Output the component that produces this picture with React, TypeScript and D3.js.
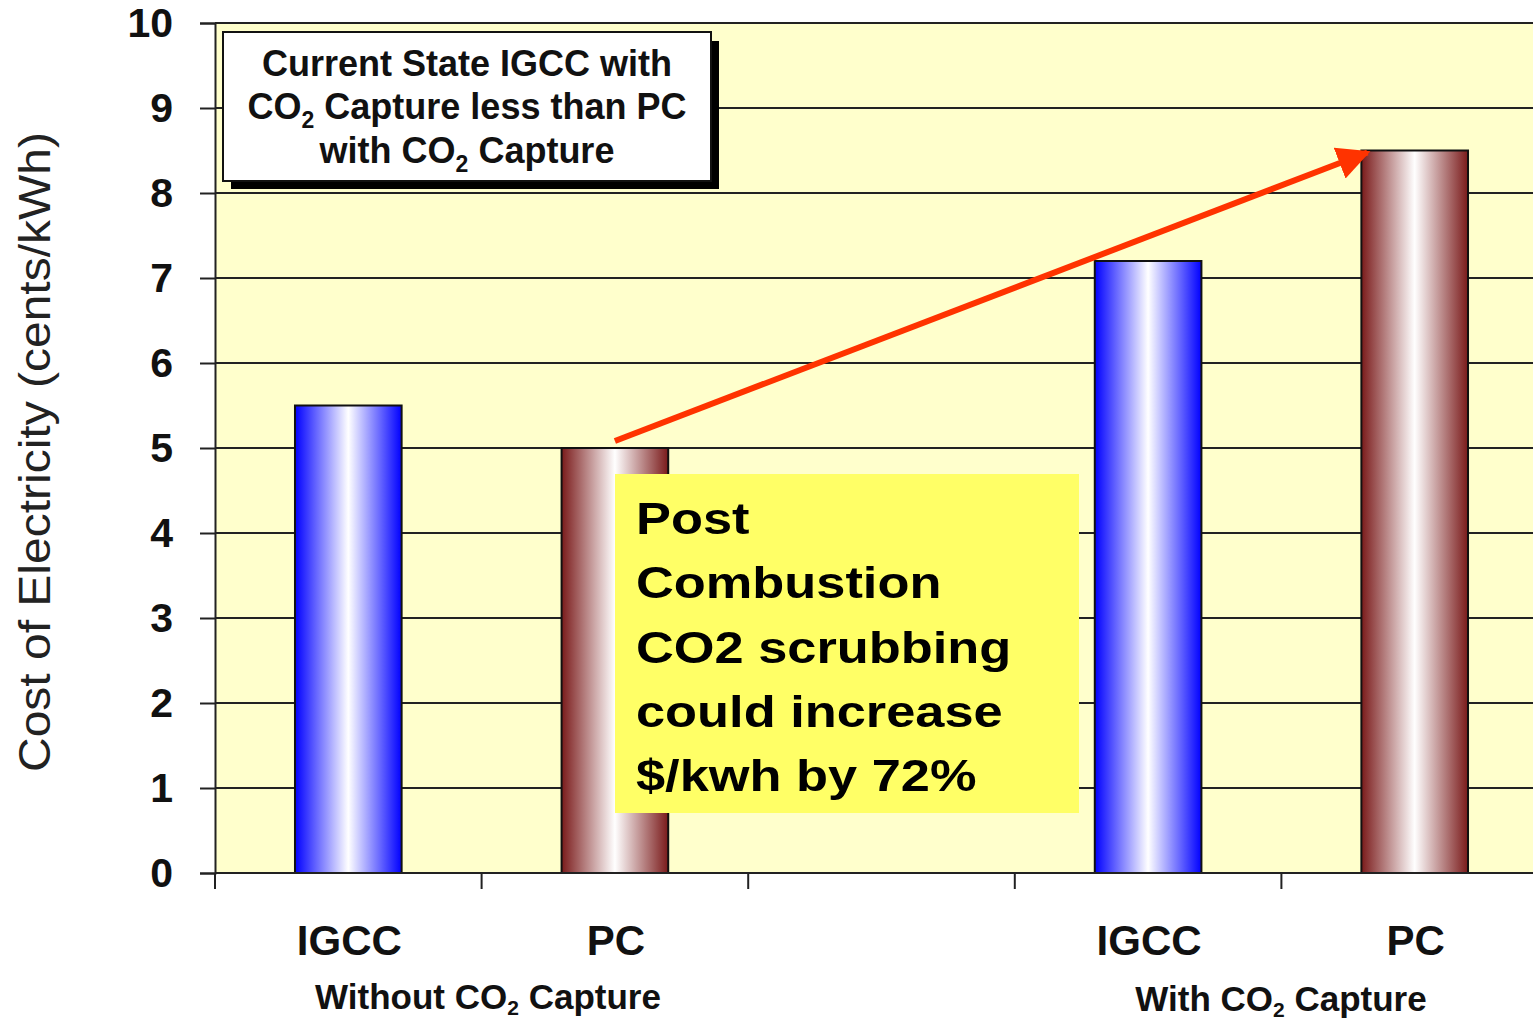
import React, { useEffect, useRef } from 'react';
import * as d3 from 'd3';

// chart data
const slots = ['IGCC-a', 'PC-a', 'gap', 'IGCC-b', 'PC-b'];
const barKeys = ['IGCC-a', 'PC-a', 'IGCC-b', 'PC-b'];
const barLabels = ['IGCC', 'PC', 'IGCC', 'PC'];
const barValues = [5.5, 5.0, 7.2, 8.5];
const barKinds = ['igcc', 'pc', 'igcc', 'pc'];
const yTicks = [0, 1, 2, 3, 4, 5, 6, 7, 8, 9, 10];
const noteLines = ['Post', 'Combustion', 'CO2 scrubbing', 'could increase', '$/kwh by 72%'];

const W = 1533;
const H = 1024;
const FONT = 'Arial, "Liberation Sans", sans-serif';

const App: React.FC = () => {
  const svgRef = useRef<SVGSVGElement>(null);

  useEffect(() => {
    const svg = d3.select(svgRef.current);
    svg.selectAll('*').remove();

    const x = d3.scaleBand<string>().domain(slots).range([215, 1548]).paddingInner(0.6).paddingOuter(0.3);
    const y = d3.scaleLinear().domain([0, 10]).range([873, 23]);

    const defs = svg.append('defs');
    const grad = (id: string, edge: string) => {
      const g = defs.append('linearGradient').attr('id', id).attr('x1', 0).attr('x2', 1).attr('y1', 0).attr('y2', 0);
      g.append('stop').attr('offset', '0%').attr('stop-color', edge);
      g.append('stop').attr('offset', '50%').attr('stop-color', '#ffffff');
      g.append('stop').attr('offset', '100%').attr('stop-color', edge);
    };
    grad('g-igcc', '#0000ff');
    grad('g-pc', '#7a1a1a');

    // plot background
    svg.append('rect')
      .attr('x', 215).attr('y', y(10))
      .attr('width', W - 215).attr('height', y(0) - y(10))
      .attr('fill', '#ffffcc');

    // gridlines
    svg.append('g')
      .selectAll('line')
      .data(yTicks.filter(d => d > 0))
      .join('line')
      .attr('x1', 215).attr('x2', W)
      .attr('y1', d => y(d)).attr('y2', d => y(d))
      .attr('stroke', '#222').attr('stroke-width', 2);

    // y axis
    const yAxis = svg.append('g')
      .attr('transform', 'translate(215,0)')
      .call(d3.axisLeft(y).tickValues(yTicks).tickSize(15).tickPadding(27).tickFormat(d3.format('d')));
    yAxis.select('.domain').attr('stroke', '#222').attr('stroke-width', 2);
    yAxis.selectAll('.tick line').attr('stroke', '#222').attr('stroke-width', 2);
    yAxis.selectAll('.tick text')
      .attr('font-family', FONT).attr('font-size', 41).attr('font-weight', 'bold').attr('fill', '#111');

    // bars
    svg.append('g')
      .selectAll('rect')
      .data(barKeys)
      .join('rect')
      .attr('x', d => x(d) ?? 0)
      .attr('y', (d, i) => y(barValues[i]))
      .attr('width', x.bandwidth())
      .attr('height', (d, i) => y(0) - y(barValues[i]))
      .attr('fill', (d, i) => `url(#g-${barKinds[i]})`)
      .attr('stroke', '#111').attr('stroke-width', 2);

    // x axis line + ticks at slot boundaries
    svg.append('line')
      .attr('x1', 215).attr('x2', W).attr('y1', y(0)).attr('y2', y(0))
      .attr('stroke', '#222').attr('stroke-width', 2);
    const bounds = d3.range(slots.length).map(i => 215 + i * x.step());
    svg.append('g')
      .selectAll('line')
      .data(bounds)
      .join('line')
      .attr('x1', d => d).attr('x2', d => d)
      .attr('y1', y(0)).attr('y2', y(0) + 16)
      .attr('stroke', '#222').attr('stroke-width', 2);

    // category labels
    svg.append('g')
      .selectAll('text')
      .data(barKeys)
      .join('text')
      .attr('x', d => (x(d) ?? 0) + x.bandwidth() / 2 + 1)
      .attr('y', 955)
      .attr('text-anchor', 'middle')
      .attr('font-family', FONT).attr('font-size', 42).attr('font-weight', 'bold').attr('fill', '#111')
      .text((d, i) => barLabels[i]);

    // group labels with subscript
    const groupLabel = (cx: number, cy: number, pre: string) => {
      const t = svg.append('text')
        .attr('x', cx).attr('y', cy).attr('text-anchor', 'middle')
        .attr('font-family', FONT).attr('font-size', 35).attr('font-weight', 'bold').attr('fill', '#111');
      t.append('tspan').text(pre + 'CO');
      t.append('tspan').attr('font-size', 21).attr('dy', 6).text('2');
      t.append('tspan').attr('dy', -6).text(' Capture');
    };
    groupLabel(488, 1009, 'Without ');
    groupLabel(1281, 1011, 'With ');

    // y title
    svg.append('text')
      .attr('transform', 'translate(50,452) rotate(-90)')
      .attr('text-anchor', 'middle')
      .attr('font-family', FONT).attr('font-size', 45).attr('fill', '#222')
      .attr('textLength', 640).attr('lengthAdjust', 'spacingAndGlyphs')
      .text('Cost of Electricity (cents/kWh)');

    // top-left callout box
    svg.append('rect').attr('x', 231).attr('y', 41).attr('width', 488).attr('height', 148).attr('fill', '#000');
    svg.append('rect').attr('x', 223).attr('y', 32).attr('width', 488).attr('height', 149)
      .attr('fill', '#fff').attr('stroke', '#111').attr('stroke-width', 2);
    const box = svg.append('g')
      .attr('font-family', FONT).attr('font-size', 36).attr('font-weight', 'bold').attr('fill', '#111')
      .attr('text-anchor', 'middle');
    box.append('text').attr('x', 467).attr('y', 76).text('Current State IGCC with');
    const l2 = box.append('text').attr('x', 467).attr('y', 119);
    l2.append('tspan').text('CO');
    l2.append('tspan').attr('font-size', 23).attr('dy', 9).text('2');
    l2.append('tspan').attr('dy', -9).text(' Capture less than PC');
    const l3 = box.append('text').attr('x', 467).attr('y', 163);
    l3.append('tspan').text('with CO');
    l3.append('tspan').attr('font-size', 23).attr('dy', 9).text('2');
    l3.append('tspan').attr('dy', -9).text(' Capture');

    // arrow from PC (without) to PC (with)
    const pcA = (x('PC-a') ?? 0) + x.bandwidth() / 2;
    const pcB = x('PC-b') ?? 0;
    defs.append('marker')
      .attr('id', 'arrow').attr('viewBox', '0 0 10 10').attr('refX', 9).attr('refY', 5)
      .attr('markerWidth', 5.5).attr('markerHeight', 5.5).attr('orient', 'auto')
      .append('path').attr('d', 'M0,0L10,5L0,10Z').attr('fill', '#ff3300');
    svg.append('line')
      .attr('x1', pcA).attr('y1', y(barValues[1]) - 7)
      .attr('x2', pcB + 6).attr('y2', y(barValues[3]) + 2)
      .attr('stroke', '#ff3300').attr('stroke-width', 6)
      .attr('marker-end', 'url(#arrow)');

    // yellow note (text drawn horizontally stretched like the source)
    svg.append('rect').attr('x', 615).attr('y', 474).attr('width', 464).attr('height', 339).attr('fill', '#ffff66');
    svg.append('g')
      .attr('transform', 'translate(636,0) scale(1.19,1)')
      .selectAll('text')
      .data(noteLines)
      .join('text')
      .attr('x', 0)
      .attr('y', (d, i) => 534 + i * 64.3)
      .attr('font-family', FONT).attr('font-size', 44).attr('font-weight', 'bold').attr('fill', '#000')
      .text(d => d);
  }, []);

  return <svg ref={svgRef} width={W} height={H} style={{ position: 'absolute', left: 0, top: 0, background: '#fff' }} />;
};

export default App;
